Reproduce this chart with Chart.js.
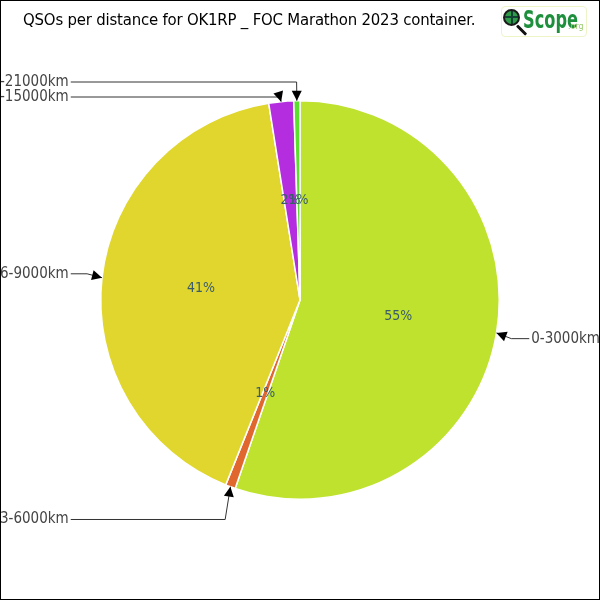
<!DOCTYPE html>
<html><head><meta charset="utf-8">
<script src="https://cdn.jsdelivr.net/npm/chart.js@4/dist/chart.umd.min.js"></script>
<style>
html,body{margin:0;padding:0;background:#fff;}
#wrap{position:relative;width:600px;height:600px;box-sizing:border-box;border:1px solid #000;overflow:hidden;}
#c{position:absolute;left:0;top:0;}
#title{position:absolute;left:22px;top:9px;font-family:"DejaVu Sans Condensed","DejaVu Sans",sans-serif;font-size:16.6px;color:#000;white-space:nowrap;letter-spacing:-0.2px;}
#logo{position:absolute;left:500px;top:5px;width:86px;height:31px;box-sizing:border-box;border:1px solid #eef3c8;border-radius:4px;background:#fff;}
#logo .ic{position:absolute;left:1px;top:2px;width:17px;height:17px;border-radius:50%;background:#2f9a48;border:2px solid #1a1a1a;box-sizing:border-box;
  background-image:linear-gradient(90deg,transparent 45%,#143 45%,#143 58%,transparent 58%),linear-gradient(0deg,transparent 45%,#143 45%,#143 58%,transparent 58%);}
#logo .hd{position:absolute;left:15px;top:17px;width:13px;height:3px;background:#111;transform:rotate(45deg);transform-origin:0 50%;border-radius:1px;}
#logo .tx{position:absolute;left:21px;top:-2px;font-family:"Liberation Sans Narrow","DejaVu Sans Condensed",sans-serif;font-weight:bold;font-size:25px;color:#1e8f3c;transform:scaleX(0.72);transform-origin:0 0;}
#logo .org{position:absolute;left:66px;top:15px;font-family:"DejaVu Sans",sans-serif;font-size:8px;color:#9ccc70;}
</style></head>
<body>
<div id="wrap">
<canvas id="c" width="598" height="598"></canvas>
<div id="title">QSOs per distance for OK1RP _ FOC Marathon 2023 container.</div>
<div id="logo"><div class="ic"></div><div class="hd"></div><div class="tx">Scope</div><div class="org">.org</div></div>
</div>
<script>
const categories = ["0-3000km", "3-6000km", "6-9000km", "12-15000km", "18-21000km"];
const qsoCounts = [550, 8, 412, 20, 5];
const sliceColors = ["#bee22e", "#e0682e", "#e0d62e", "#b42ee0", "#5ce02e"];

const labelPlugin = {
  id: 'pieLabels',
  afterDatasetsDraw(chart) {
    const ctx = chart.ctx;
    const meta = chart.getDatasetMeta(0);
    const data = chart.data.datasets[0].data;
    const total = data.reduce((a, b) => a + b, 0);
    ctx.save();
    ctx.font = '14px "DejaVu Sans Condensed", sans-serif';
    ctx.fillStyle = '#3b5c6b';
    ctx.textAlign = 'center';
    ctx.textBaseline = 'middle';
    const items = [];
    meta.data.forEach((arc, i) => {
      const p = arc.getProps(['x', 'y', 'startAngle', 'endAngle', 'outerRadius'], true);
      const mid = (p.startAngle + p.endAngle) / 2;
      const r = p.outerRadius;
      const pct = Math.round(data[i] / total * 100) + '%';
      ctx.fillText(pct, p.x + Math.cos(mid) * r * 0.5, p.y + Math.sin(mid) * r * 0.5);
      items.push({ i, mid, cx: p.x, cy: p.y, r,
        tipX: p.x + Math.cos(mid) * r, tipY: p.y + Math.sin(mid) * r,
        elbowX: p.x + Math.cos(mid) * (r + 15),
        ly: p.y + Math.sin(mid) * (r + 35),
        right: Math.cos(mid) >= 0 });
    });
    const minY = chart.chartArea.top - 18;
    const left = items.filter(o => !o.right).sort((a, b) => a.ly - b.ly || b.mid - a.mid);
    let prev = -Infinity;
    left.forEach(o => { o.ly = Math.max(o.ly, minY, prev + 15); prev = o.ly; });
    const right = items.filter(o => o.right).sort((a, b) => a.ly - b.ly);
    prev = -Infinity;
    right.forEach(o => { o.ly = Math.max(o.ly, minY, prev + 15); prev = o.ly; });

    ctx.font = '15px "DejaVu Sans Condensed", sans-serif';
    items.forEach(o => {
      const textX = o.right ? o.cx + o.r + 32 : o.cx - o.r - 32;
      ctx.strokeStyle = '#333';
      ctx.lineWidth = 1;
      ctx.beginPath();
      ctx.moveTo(o.tipX, o.tipY);
      ctx.lineTo(o.elbowX, o.ly);
      ctx.lineTo(textX + (o.right ? -2 : 2), o.ly);
      ctx.stroke();
      const ang = Math.atan2(o.tipY - o.ly, o.tipX - o.elbowX);
      const L = 10, W = 5;
      ctx.fillStyle = '#000';
      ctx.beginPath();
      ctx.moveTo(o.tipX, o.tipY);
      ctx.lineTo(o.tipX - L * Math.cos(ang) + W * Math.sin(ang), o.tipY - L * Math.sin(ang) - W * Math.cos(ang));
      ctx.lineTo(o.tipX - L * Math.cos(ang) - W * Math.sin(ang), o.tipY - L * Math.sin(ang) + W * Math.cos(ang));
      ctx.closePath();
      ctx.fill();
      ctx.fillStyle = '#444';
      ctx.textAlign = o.right ? 'left' : 'right';
      ctx.textBaseline = 'middle';
      ctx.fillText(categories[o.i], textX, o.ly);
    });
    ctx.restore();
  }
};

new Chart(document.getElementById('c'), {
  type: 'pie',
  data: {
    labels: categories,
    datasets: [{ data: qsoCounts, backgroundColor: sliceColors, borderColor: '#ffffff', borderWidth: 1.5 }]
  },
  options: {
    responsive: false,
    animation: false,
    layout: { padding: 99 },
    plugins: { legend: { display: false }, title: { display: false }, tooltip: { enabled: false } }
  },
  plugins: [labelPlugin]
});
</script>
</body></html>
